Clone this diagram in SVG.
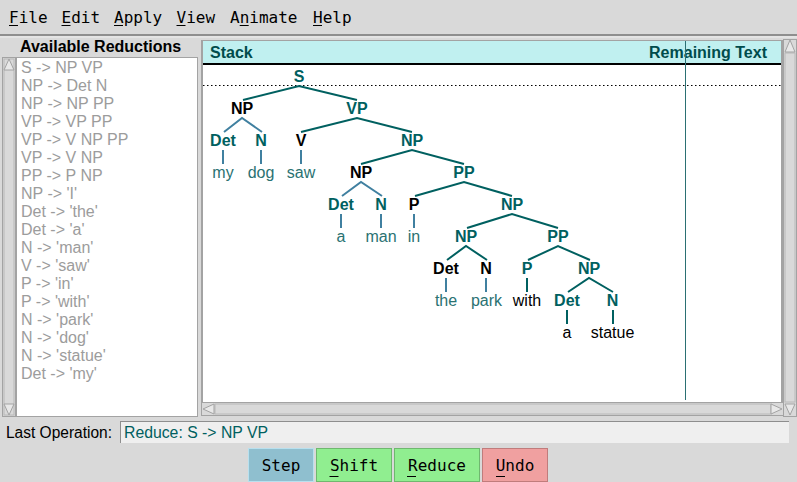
<svg xmlns="http://www.w3.org/2000/svg" width="797" height="482" viewBox="0 0 797 482">
<style>
.menu{font-family:"DejaVu Sans Mono",monospace;font-size:16px;fill:#000}
.btn{font-family:"DejaVu Sans Mono",monospace;font-size:16px;fill:#000;text-anchor:middle}
.rule{font-family:"Liberation Sans",Arial,sans-serif;font-size:16px;fill:#9c9c9c}
.hdr{font-family:"Liberation Sans",Arial,sans-serif;font-size:16px;font-weight:bold;fill:#004c4c}
.lbl{font-family:"Liberation Sans",Arial,sans-serif;font-size:16px;font-weight:bold;text-anchor:middle}
.leaf{font-family:"Liberation Sans",Arial,sans-serif;font-size:16px;text-anchor:middle}
.t{fill:#006060}.k{fill:#000}.lt{fill:#2a7272}
.e{stroke:#006060;stroke-width:2;fill:none}
.eb{stroke:#4080a0;stroke-width:2;fill:none}
.sb{fill:#d9d9d9;stroke:#a3a3a3;stroke-width:1}
</style>
<rect x="0" y="0" width="797" height="482" fill="#d9d9d9"/>
<!-- menu bar -->
<g id="menubar">
<line x1="0" y1="35" x2="797" y2="35" stroke="#8e8e8e" stroke-width="2"/>
<line x1="0" y1="37" x2="797" y2="37" stroke="#eeeeee" stroke-width="1"/>
<text class="menu" x="9" y="23">File</text>
<text class="menu" x="61.5" y="23">Edit</text>
<text class="menu" x="114" y="23">Apply</text>
<text class="menu" x="176.5" y="23">View</text>
<text class="menu" x="230" y="23">Animate</text>
<text class="menu" x="313" y="23">Help</text>
<g stroke="#000" stroke-width="1">
<line x1="9" y1="25.5" x2="18" y2="25.5"/>
<line x1="61.5" y1="25.5" x2="70.5" y2="25.5"/>
<line x1="114" y1="25.5" x2="123" y2="25.5"/>
<line x1="176.5" y1="25.5" x2="185.5" y2="25.5"/>
<line x1="239.7" y1="25.5" x2="248.7" y2="25.5"/>
<line x1="313" y1="25.5" x2="322" y2="25.5"/>
</g>
</g>
<!-- reductions list -->
<g id="reductions">
<text class="hdr" x="20" y="52" style="fill:#000">Available Reductions</text>
<rect x="16.5" y="57.5" width="181" height="359" fill="#ffffff" stroke="#a3a3a3"/>
<rect x="2.5" y="57.5" width="13" height="359" class="sb"/>
<rect x="4" y="59" width="10" height="356" fill="#d9d9d9" stroke="#b8b8b8"/>
<polygon points="4,70 9,59 14,70" fill="#e8e8e8" stroke="#a3a3a3"/>
<polygon points="4,404 9,415 14,404" fill="#e8e8e8" stroke="#a3a3a3"/>
<text class="rule" x="21" y="73">S -&gt; NP VP</text>
<text class="rule" x="21" y="91">NP -&gt; Det N</text>
<text class="rule" x="21" y="109">NP -&gt; NP PP</text>
<text class="rule" x="21" y="127">VP -&gt; VP PP</text>
<text class="rule" x="21" y="145">VP -&gt; V NP PP</text>
<text class="rule" x="21" y="163">VP -&gt; V NP</text>
<text class="rule" x="21" y="181">PP -&gt; P NP</text>
<text class="rule" x="21" y="199">NP -&gt; 'I'</text>
<text class="rule" x="21" y="217">Det -&gt; 'the'</text>
<text class="rule" x="21" y="235">Det -&gt; 'a'</text>
<text class="rule" x="21" y="253">N -&gt; 'man'</text>
<text class="rule" x="21" y="271">V -&gt; 'saw'</text>
<text class="rule" x="21" y="289">P -&gt; 'in'</text>
<text class="rule" x="21" y="307">P -&gt; 'with'</text>
<text class="rule" x="21" y="325">N -&gt; 'park'</text>
<text class="rule" x="21" y="343">N -&gt; 'dog'</text>
<text class="rule" x="21" y="361">N -&gt; 'statue'</text>
<text class="rule" x="21" y="379">Det -&gt; 'my'</text>
</g>
<!-- canvas -->
<g id="canvas">
<rect x="201" y="40" width="582" height="363" fill="#a3a3a3"/>
<rect x="203" y="41" width="578" height="361" fill="#ffffff"/>
<rect x="203" y="41" width="578" height="23" fill="#c0f0f0"/>
<line x1="203" y1="64" x2="781" y2="64" stroke="#000" stroke-width="2"/>
<text class="hdr" x="210" y="58">Stack</text>
<text class="hdr" x="767" y="58" text-anchor="end">Remaining Text</text>
<line x1="203" y1="85.5" x2="781" y2="85.5" stroke="#000" stroke-width="1" stroke-dasharray="1.5 2.5"/>
<line x1="685.5" y1="41" x2="685.5" y2="400" stroke="#2b7073" stroke-width="1"/>
<!-- vertical scrollbar -->
<rect x="783.5" y="39.5" width="13" height="377" class="sb"/>
<rect x="785" y="53" width="10" height="349" fill="#d9d9d9" stroke="#b8b8b8"/>
<polygon points="785,52 790,40 795,52" fill="#e8e8e8" stroke="#a3a3a3"/>
<polygon points="785,404 790,415 795,404" fill="#e8e8e8" stroke="#a3a3a3"/>
<!-- horizontal scrollbar -->
<rect x="201.5" y="402.5" width="582" height="13" class="sb"/>
<rect x="215" y="404" width="556" height="10" fill="#d9d9d9" stroke="#b8b8b8"/>
<polygon points="214,404 203,409 214,414" fill="#e8e8e8" stroke="#a3a3a3"/>
<polygon points="771,404 782,409 771,414" fill="#e8e8e8" stroke="#a3a3a3"/>
</g>
<!-- connectors -->
<g id="connectors">
<polyline class="e" points="243,100 299,86 357,100"/>
<polyline class="eb" points="224,132 242,118 262,132"/>
<polyline class="e" points="301,132 357,118 412,132"/>
<line class="eb" x1="223" y1="150" x2="223" y2="164"/>
<line class="eb" x1="261" y1="150" x2="261" y2="164"/>
<line class="eb" x1="301" y1="150" x2="301" y2="164"/>
<polyline class="e" points="361,164 412,150 464,164"/>
<polyline class="eb" points="342,196 361,182 382,196"/>
<polyline class="e" points="415,196 464,182 512,196"/>
<line class="eb" x1="341" y1="214" x2="341" y2="228"/>
<line class="eb" x1="381" y1="214" x2="381" y2="228"/>
<line class="eb" x1="414" y1="214" x2="414" y2="228"/>
<polyline class="e" points="467,228 512,214 558,228"/>
<polyline class="e" points="447,260 466,246 487,260"/>
<polyline class="e" points="528,260 558,246 590,260"/>
<line class="eb" x1="446" y1="278" x2="446" y2="292"/>
<line class="eb" x1="486" y1="278" x2="486" y2="292"/>
<line class="e" x1="527" y1="278" x2="527" y2="292"/>
<polyline class="e" points="568,292 589,278 613,292"/>
<line class="e" x1="567" y1="310" x2="567" y2="324"/>
<line class="e" x1="613" y1="310" x2="613" y2="324"/>
</g>
<!-- tree nodes -->
<g id="node-S"><text class="lbl t" x="299" y="82">S</text></g>
<g id="node-NP1"><text class="lbl k" x="242" y="114">NP</text></g>
<g id="node-VP"><text class="lbl t" x="357" y="114">VP</text></g>
<g id="node-Det1"><text class="lbl t" x="223" y="146">Det</text></g>
<g id="node-N1"><text class="lbl t" x="261" y="146">N</text></g>
<g id="node-V"><text class="lbl k" x="301" y="146">V</text></g>
<g id="node-NP2"><text class="lbl t" x="412" y="146">NP</text></g>
<g id="leaf-my"><text class="leaf lt" x="223" y="178">my</text></g>
<g id="leaf-dog"><text class="leaf lt" x="261" y="178">dog</text></g>
<g id="leaf-saw"><text class="leaf lt" x="301" y="178">saw</text></g>
<g id="node-NP3"><text class="lbl k" x="361" y="178">NP</text></g>
<g id="node-PP1"><text class="lbl t" x="464" y="178">PP</text></g>
<g id="node-Det2"><text class="lbl t" x="341" y="210">Det</text></g>
<g id="node-N2"><text class="lbl t" x="381" y="210">N</text></g>
<g id="node-P1"><text class="lbl k" x="414" y="210">P</text></g>
<g id="node-NP4"><text class="lbl t" x="512" y="210">NP</text></g>
<g id="leaf-a1"><text class="leaf lt" x="341" y="242">a</text></g>
<g id="leaf-man"><text class="leaf lt" x="381" y="242">man</text></g>
<g id="leaf-in"><text class="leaf lt" x="414" y="242">in</text></g>
<g id="node-NP5"><text class="lbl t" x="466" y="242">NP</text></g>
<g id="node-PP2"><text class="lbl t" x="558" y="242">PP</text></g>
<g id="node-Det3"><text class="lbl k" x="446" y="274">Det</text></g>
<g id="node-N3"><text class="lbl k" x="486" y="274">N</text></g>
<g id="node-P2"><text class="lbl t" x="527" y="274">P</text></g>
<g id="node-NP6"><text class="lbl t" x="589" y="274">NP</text></g>
<g id="leaf-the"><text class="leaf lt" x="446" y="306">the</text></g>
<g id="leaf-park"><text class="leaf lt" x="486.5" y="306">park</text></g>
<g id="leaf-with"><text class="leaf k" x="527" y="306">with</text></g>
<g id="node-Det4"><text class="lbl t" x="567" y="306">Det</text></g>
<g id="node-N4"><text class="lbl t" x="612.5" y="306">N</text></g>
<g id="leaf-a2"><text class="leaf k" x="567" y="338">a</text></g>
<g id="leaf-statue"><text class="leaf k" x="612.5" y="338">statue</text></g>
<!-- last operation -->
<g id="lastop">
<text x="6" y="438" font-family="Liberation Sans, Arial, sans-serif" font-size="16" textLength="106" lengthAdjust="spacingAndGlyphs">Last Operation:</text>
<rect x="120" y="421" width="669" height="22" fill="#efefef"/>
<line x1="120" y1="421.5" x2="789" y2="421.5" stroke="#8e8e8e"/>
<line x1="120.5" y1="421" x2="120.5" y2="443" stroke="#8e8e8e"/>
<text x="124" y="438" font-family="Liberation Sans, Arial, sans-serif" font-size="16" fill="#006060" textLength="144" lengthAdjust="spacingAndGlyphs">Reduce: S -&gt; NP VP</text>
</g>
<!-- buttons -->
<g id="btn-step">
<rect x="248.5" y="448.5" width="65" height="33" fill="#8fbfcf" stroke="#b8e0ee"/>
<text class="btn" x="281" y="470.5">Step</text>
</g>
<g id="btn-shift">
<rect x="316.5" y="448.5" width="75" height="33" fill="#90ee90" stroke="#6fb86f"/>
<text class="btn" x="354" y="470.5">Shift</text>
<line x1="329.5" y1="476.5" x2="338.5" y2="476.5" stroke="#000"/>
</g>
<g id="btn-reduce">
<rect x="394.5" y="448.5" width="85" height="33" fill="#90ee90" stroke="#6fb86f"/>
<text class="btn" x="437" y="470.5">Reduce</text>
<line x1="407" y1="476.5" x2="416" y2="476.5" stroke="#000"/>
</g>
<g id="btn-undo">
<rect x="482.5" y="448.5" width="65" height="33" fill="#f0a0a0" stroke="#c07c7c"/>
<text class="btn" x="515" y="470.5">Undo</text>
<line x1="496" y1="476.5" x2="505" y2="476.5" stroke="#000"/>
</g>
</svg>
